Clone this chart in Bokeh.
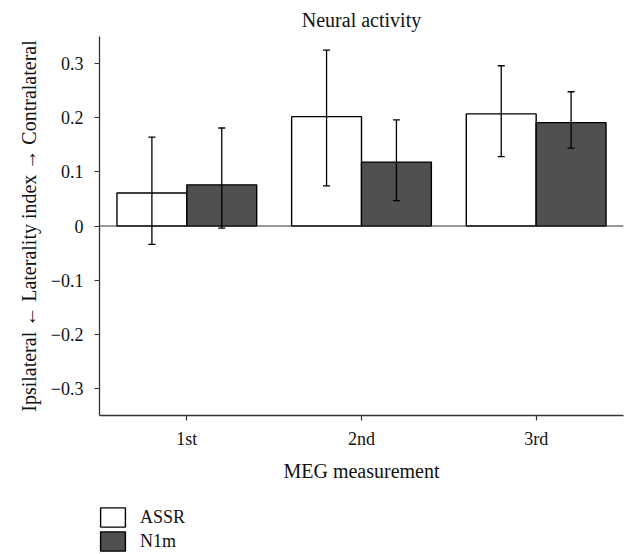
from bokeh.plotting import figure
from bokeh.layouts import column
from bokeh.models import (ColumnDataSource, Whisker, TeeHead, Span, Legend, LegendItem,
                          FixedTicker)
from bokeh.transform import dodge
from bokeh.embed import file_html
from bokeh.resources import INLINE

# ---- data ----
categories = ["1st", "2nd", "3rd"]
assr_mean = [0.061, 0.202, 0.207]
assr_lower = [-0.034, 0.074, 0.128]
assr_upper = [0.164, 0.325, 0.296]
n1m_mean = [0.076, 0.118, 0.191]
n1m_lower = [-0.004, 0.047, 0.144]
n1m_upper = [0.181, 0.196, 0.248]
series_names = ["ASSR", "N1m"]
y_ticks = [-0.3, -0.2, -0.1, 0, 0.1, 0.2, 0.3]
y_tick_labels = ["\u22120.3", "\u22120.2", "\u22120.1", "0", "0.1", "0.2", "0.3"]

FONT = "Liberation Serif"
FILLS = ["white", "#505050"]

src = ColumnDataSource(dict(
    cat=categories,
    assr=assr_mean, assr_lo=assr_lower, assr_hi=assr_upper,
    n1m=n1m_mean, n1m_lo=n1m_lower, n1m_hi=n1m_upper,
))

p = figure(x_range=categories, y_range=(-0.35, 0.35), width=624, height=490,
           output_backend="svg", toolbar_location=None, title="Neural activity",
           min_border_left=99, min_border_right=1, min_border_top=36, min_border_bottom=75)

p.outline_line_color = None
p.grid.visible = False
p.background_fill_color = "white"

# title
p.title.align = "center"
p.title.text_font = FONT
p.title.text_font_style = "normal"
p.title.text_font_size = "20px"
p.title.text_color = "#111111"
p.title.standoff = 12

# zero line
p.add_layout(Span(location=0, dimension="width", line_color="#333333", line_width=1.2))

r1 = p.vbar(x=dodge("cat", -0.2, range=p.x_range), top="assr", width=0.4, bottom=0,
            source=src, fill_color=FILLS[0], line_color="black", line_width=1.4)
r2 = p.vbar(x=dodge("cat", 0.2, range=p.x_range), top="n1m", width=0.4, bottom=0,
            source=src, fill_color=FILLS[1], line_color="black", line_width=1.4)

for off, lo, hi in [(-0.2, "assr_lo", "assr_hi"), (0.2, "n1m_lo", "n1m_hi")]:
    w = Whisker(base=dodge("cat", off, range=p.x_range), lower=lo, upper=hi, source=src,
                line_color="black", line_width=1.3, level="overlay",
                upper_head=TeeHead(size=7, line_color="black", line_width=1.3),
                lower_head=TeeHead(size=7, line_color="black", line_width=1.3))
    p.add_layout(w)

# axes
p.yaxis.ticker = FixedTicker(ticks=y_ticks)
p.yaxis.major_label_overrides = dict(zip(y_ticks, y_tick_labels))
p.yaxis.minor_tick_line_color = None
for ax in (p.xaxis[0], p.yaxis[0]):
    ax.axis_line_color = "#333333"
    ax.axis_line_width = 1.3
    ax.major_tick_line_color = "#333333"
    ax.major_tick_line_width = 1.2
    ax.major_tick_in = 0
    ax.major_tick_out = 5
    ax.major_label_text_font = FONT
    ax.major_label_text_font_size = "18px"
    ax.major_label_text_color = "#111111"
    ax.axis_label_text_font = FONT
    ax.axis_label_text_font_size = "20px"
    ax.axis_label_text_font_style = "normal"
    ax.axis_label_text_color = "#111111"
p.yaxis.axis_label = "Ipsilateral \u2190 Laterality index \u2192 Contralateral"
p.xaxis.axis_label = "MEG measurement"
p.yaxis.major_label_standoff = 11
p.yaxis.axis_label_standoff = 8
p.xaxis.major_label_standoff = 8
p.xaxis.axis_label_standoff = 8

# ---- legend strip below the chart (frames are aligned with the chart) ----
q = figure(width=624, height=64, x_range=(0, 1), y_range=(0, 1),
           output_backend="svg", toolbar_location=None,
           x_axis_location=None, y_axis_location=None,
           min_border_left=0, min_border_right=0, min_border_top=0, min_border_bottom=0)
q.outline_line_color = None
q.grid.visible = False

items = []
for name, fc in zip(series_names, FILLS):
    # hidden proxy bar (outside the visible range) that only supplies the legend swatch
    rr = q.vbar(x=[-10], top=[0], width=0.1, fill_color=fc, line_color="black", line_width=1.4)
    items.append(LegendItem(label=name, renderers=[rr]))

legend = Legend(items=items, location=(-2, 1), orientation="vertical")
legend.label_text_font = FONT
legend.label_text_font_size = "18px"
legend.label_text_color = "#111111"
legend.glyph_width = 31
legend.glyph_height = 24
legend.label_height = 24
legend.spacing = -1
legend.padding = 0
legend.margin = 0
legend.label_standoff = 12
legend.border_line_color = None
legend.background_fill_alpha = 0
q.add_layout(legend, "center")

layout = column(p, q, spacing=0)
open("out.html", "w").write(file_html(layout, INLINE))
